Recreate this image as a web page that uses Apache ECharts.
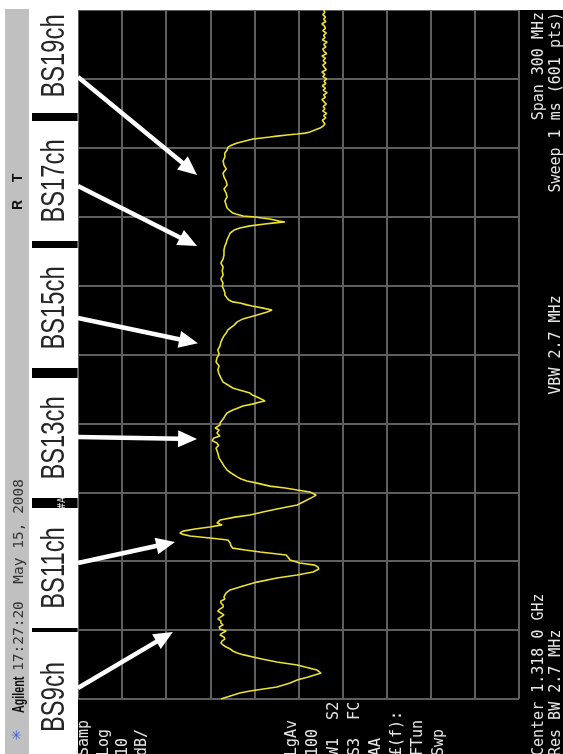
<!DOCTYPE html>
<html><head><meta charset="utf-8">
<script src="https://cdn.jsdelivr.net/npm/echarts@6/dist/echarts.min.js"></script>
<style>html,body{margin:0;padding:0;background:#000;}#c{width:563px;height:754px;}</style>
</head><body><div id="c"></div>
<script>
// ---------- DATA ----------
// Pairs are [frequency offset from centre (MHz; centre 1.318 GHz, span 300 MHz), level in dB below ref (10 dB/div)]
const segBS9 = [[-150.0,-32.4],[-149.1,-33.8],[-147.4,-36.7],[-146.5,-39.0],[-144.8,-45.1],[-143.0,-48.1],[-141.7,-49.7],[-140.4,-52.2],[-139.1,-54.4],[-138.7,-55.1],[-137.4,-54.2],[-136.1,-51.5],[-135.2,-49.7],[-133.9,-45.1],[-132.6,-41.7],[-131.7,-39.7],[-130.8,-37.6],[-130.0,-36.1],[-129.1,-35.1],[-128.2,-34.5],[-127.4,-33.6],[-126.5,-32.9],[-125.6,-32.4],[-124.7,-32.7],[-123.9,-33.3],[-123.0,-33.1],[-122.1,-32.2],[-121.3,-32.7],[-120.4,-33.6],[-119.5,-32.2],[-118.6,-32.0],[-117.8,-32.9],[-116.9,-32.4],[-116.0,-32.4],[-115.1,-31.7],[-114.3,-32.0],[-113.4,-33.1],[-112.6,-32.7],[-111.7,-31.7],[-110.8,-32.2],[-110.0,-32.9],[-109.1,-32.9],[-108.2,-32.4],[-107.3,-32.4],[-106.5,-33.3],[-105.6,-33.1],[-104.7,-33.3],[-103.8,-33.6],[-102.5,-34.5],[-101.2,-36.7],[-99.9,-39.0],[-99.1,-40.6],[-97.3,-45.1],[-96.0,-49.7]];
const segBS11 = [[-94.7,-53.3],[-93.4,-54.6],[-92.5,-54.4],[-91.7,-53.7],[-90.8,-50.3],[-89.5,-48.1],[-88.2,-47.6],[-87.3,-47.2],[-86.0,-41.3],[-85.1,-37.9],[-84.3,-35.1],[-83.4,-34.7],[-82.1,-34.5],[-80.8,-34.0],[-79.9,-29.9],[-79.0,-25.4],[-78.2,-23.6],[-77.7,-23.1],[-76.9,-23.8],[-76.0,-26.5],[-75.1,-29.9],[-74.2,-32.7],[-73.4,-31.5],[-72.1,-32.2],[-70.8,-35.6],[-69.9,-39.0],[-68.6,-41.9],[-67.3,-45.1],[-66.4,-47.4],[-65.5,-49.7],[-63.8,-51.5],[-62.0,-53.3]];
const segBS13 = [[-61.2,-54.0],[-59.9,-52.6],[-59.0,-49.7],[-58.1,-47.0],[-57.3,-43.5],[-56.0,-40.6],[-55.1,-38.3],[-54.2,-37.0],[-53.3,-36.1],[-51.6,-34.7],[-50.3,-33.8],[-48.5,-33.1],[-47.2,-32.7],[-45.1,-32.0],[-42.9,-31.7],[-40.7,-31.3],[-39.6,-31.9],[-38.5,-31.5],[-37.5,-30.4],[-36.4,-30.8],[-35.5,-32.2],[-34.2,-31.5],[-32.9,-32.0],[-32.0,-31.1],[-30.7,-32.2],[-29.8,-32.2],[-28.1,-32.9],[-26.8,-33.3],[-25.5,-33.8],[-24.2,-35.1],[-23.3,-36.3],[-22.4,-37.4],[-21.6,-39.5],[-20.7,-41.3],[-20.2,-42.4]];
const segBS15 = [[-19.4,-42.0],[-18.5,-40.6],[-17.6,-39.5],[-16.8,-39.0],[-15.9,-37.4],[-15.0,-35.8],[-14.6,-35.1],[-13.3,-34.0],[-12.0,-32.9],[-10.2,-32.4],[-8.5,-32.0],[-6.7,-31.7],[-5.0,-32.0],[-3.3,-31.3],[-1.5,-31.5],[0.2,-32.0],[2.0,-31.7],[3.7,-32.2],[5.4,-32.4],[6.7,-32.7],[8.1,-33.1],[9.4,-33.6],[10.7,-34.0],[11.5,-34.5],[12.8,-35.4],[14.2,-36.1],[15.5,-37.4],[16.3,-39.0],[17.2,-40.6],[18.5,-42.9],[19.4,-44.0]];
const segBS17 = [[20.2,-42.0],[21.1,-39.5],[21.6,-38.3],[22.4,-36.7],[22.9,-35.1],[23.7,-34.2],[24.6,-33.8],[25.9,-33.3],[26.8,-33.3],[28.1,-33.1],[29.8,-32.7],[31.1,-32.9],[32.9,-32.4],[34.6,-32.9],[36.4,-32.7],[38.1,-32.9],[39.8,-32.4],[41.6,-32.9],[43.3,-33.1],[45.5,-33.1],[47.2,-33.3],[48.5,-33.6],[49.9,-33.8],[51.6,-34.2],[52.9,-34.5],[54.2,-35.4],[55.1,-36.7],[56.0,-39.0],[56.8,-42.4],[57.3,-44.6],[57.7,-46.9]];
const segBS19 = [[58.1,-45.6],[59.0,-43.5],[59.4,-41.7],[59.9,-40.2],[60.3,-37.4],[61.2,-35.8],[61.6,-35.1],[62.5,-34.5],[63.8,-33.8],[65.1,-33.6],[66.8,-33.3],[68.6,-33.8],[70.3,-33.6],[72.1,-33.1],[73.8,-33.8],[75.5,-33.6],[77.3,-33.1],[79.0,-32.9],[80.8,-33.6],[82.5,-33.1],[84.3,-32.9],[86.0,-33.3],[87.7,-33.3],[89.0,-33.8],[90.3,-34.0],[91.2,-34.9],[92.1,-36.1],[93.0,-37.9],[93.8,-39.7],[94.3,-41.7],[94.7,-43.5],[95.1,-45.1],[95.6,-47.4],[96.0,-49.7]];
const segFloor = [[96.4,-51.5],[96.9,-52.6],[97.7,-53.7],[98.6,-54.9],[99.5,-55.6],[100.4,-56.0],[101,-55.8],[102,-55.4],[103,-56.2],[104,-55.7],[105,-56.4],[106,-55.5],[107,-56.0],[108,-55.6],[109,-56.3],[110,-55.8],[111,-55.3],[112,-56.1],[113,-55.7],[114,-56.5],[115,-55.6],[116,-56.1],[117,-55.4],[118,-56.2],[119,-55.8],[120,-56.4],[121,-55.5],[122,-56.0],[123,-55.3],[124,-56.3],[125,-55.9],[126,-55.5],[127,-56.2],[128,-55.6],[129,-56.1],[130,-55.3],[131,-56.4],[132,-55.8],[133,-55.5],[134,-56.2],[135,-55.7],[136,-56.5],[137,-55.4],[138,-56.0],[139,-55.7],[140,-56.3],[141,-55.5],[142,-56.1],[143,-55.9],[144,-55.3],[145,-56.2],[146,-55.7],[147,-56.1],[148,-55.5],[149,-56.0],[150,-55.7]];

const channelLabels = ['BS9ch','BS11ch','BS13ch','BS15ch','BS17ch','BS19ch'];
const arrowTailFreq = [-145.2, -90.8, -35.9, 15.9, 73.4, 120.8];
const arrowTipFreq  = [-120.8, -81.6, -36.8, 4.9, 47.2, 78.2];
const arrowTipLevel = [-21.5, -22.0, -27.0, -27.2, -27.0, -27.0];

const headerDate = '17:27:20  May 15, 2008';
const bottomLeftTexts = ['Samp','Log','10','dB/'];
const bottomRightTexts = ['LgAv','100','W1  S2','S3  FC','AA','\u00a3(f):','FTun','Swp'];
const footerTexts = {center:'Center 1.318 0 GHz', rbw:'Res BW 2.7 MHz', vbw:'VBW 2.7 MHz', span:'Span 300 MHz', sweep:'Sweep 1 ms (601 pts)'};

const trace = [].concat(segBS9, segBS11, segBS13, segBS15, segBS17, segBS19, segFloor);

// ---------- LAYOUT ----------
const chart = echarts.init(document.getElementById('c'), null, {width:563, height:754});
const gridCol = '#5e5e5e';
chart.setOption({
  backgroundColor:'#000',
  animation:false,
  grid:{left:78, top:10, width:441, height:689, show:false},
  xAxis:{type:'value', min:-100, max:0, interval:10, inverse:true,
    axisLine:{show:false}, axisTick:{show:false}, axisLabel:{show:false},
    splitLine:{show:true, lineStyle:{color:gridCol, width:2}}},
  yAxis:{type:'value', min:-150, max:150, interval:30,
    axisLine:{show:false}, axisTick:{show:false}, axisLabel:{show:false},
    splitLine:{show:true, lineStyle:{color:gridCol, width:2}}},
  series:[{type:'line', data:trace, encode:{x:1, y:0}, symbol:'none', showSymbol:false, clip:true,
    lineStyle:{color:'#ebe32f', width:1.6}, z:5}]
});

const R = Math.PI/2;
function vtext(x, y, text, font, fill, align, scaleX, z){
  return {type:'text', x:x, y:y, rotation:R, scaleX:scaleX||1, z:z||10,
    style:{text:text, font:font, fill:fill, align:align||'left', verticalAlign:'middle',
      textAlign:align||'left', textVerticalAlign:'middle'}};
}
const g = [];
g.push({type:'rect', shape:{x:0,y:0,width:563,height:10}, style:{fill:'#fff'}, z:1});
g.push({type:'rect', shape:{x:0,y:0,width:5,height:754}, style:{fill:'#fff'}, z:1});
g.push({type:'rect', shape:{x:5,y:9,width:24,height:745}, style:{fill:'#c0c0c0'}, z:1});
g.push({type:'rect', shape:{x:29,y:0,width:3,height:754}, style:{fill:'#fff'}, z:1});
g.push(vtext(62, 503, '#A', '10px DejaVu Sans Mono', '#ddd', 'center', 1, 2));
const boxes = [[632,754],[508,628],[378,498],[248,368],[121,241],[0,113]];
const textCenters = [697,568,438,308,181,56];
boxes.forEach((b,i)=>{
  g.push({type:'rect', shape:{x:29,y:b[0],width:49,height:b[1]-b[0]}, style:{fill:'#fff'}, z:3});
  g.push(vtext(55, textCenters[i], channelLabels[i], '33px "Liberation Sans", Arial, sans-serif', '#262626', 'center', 0.72, 4));
});
g.push(vtext(18, 735, '\u2733', '13px "DejaVu Sans"', '#3d5fd6', 'center', 1, 4));
g.push(vtext(19, 713, 'Agilent', 'bold 17px "Liberation Sans", Arial, sans-serif', '#111', 'left', 0.63, 4));
g.push(vtext(19, 671, headerDate, '14.5px "DejaVu Sans Mono", monospace', '#333', 'left', 1, 4));
g.push(vtext(18, 205, 'R', 'bold 14px "Liberation Sans", Arial', '#111', 'center', 1, 4));
g.push(vtext(18, 178, 'T', 'bold 14px "Liberation Sans", Arial', '#111', 'center', 1, 4));
const monoFont = '15px "DejaVu Sans Mono", monospace';
const blX = [84,104,123,142];
bottomLeftTexts.forEach((t,i)=>g.push(vtext(blX[i], 756, t, monoFont, '#e6e6e6', 'left', 1, 4)));
bottomRightTexts.forEach((t,i)=>g.push(vtext(292+21*i, 756, t, monoFont, '#e6e6e6', 'left', 1, 4)));
g.push(vtext(539, 756, footerTexts.center, monoFont, '#e6e6e6', 'left', 1, 4));
g.push(vtext(556, 756, footerTexts.rbw, monoFont, '#e6e6e6', 'left', 1, 4));
g.push(vtext(556, 345, footerTexts.vbw, monoFont, '#e6e6e6', 'center', 1, 4));
g.push(vtext(539, 12, footerTexts.span, monoFont, '#e6e6e6', 'right', 1, 4));
g.push(vtext(556, 12, footerTexts.sweep, monoFont, '#e6e6e6', 'right', 1, 4));
for (let i=0;i<channelLabels.length;i++){
  const T = chart.convertToPixel({gridIndex:0}, [0, arrowTailFreq[i]]);
  const P = chart.convertToPixel({gridIndex:0}, [arrowTipLevel[i], arrowTipFreq[i]]);
  const dx = P[0]-T[0], dy = P[1]-T[1], L = Math.hypot(dx,dy);
  const ux = dx/L, uy = dy/L, nx = -uy, ny = ux;
  const hl = 19, hw = 8.5;
  const bx = P[0]-ux*hl, by = P[1]-uy*hl;
  g.push({type:'line', shape:{x1:T[0], y1:T[1], x2:bx+ux*2, y2:by+uy*2}, style:{stroke:'#fff', lineWidth:4.5}, z:8});
  g.push({type:'polygon', shape:{points:[[P[0],P[1]],[bx+nx*hw,by+ny*hw],[bx-nx*hw,by-ny*hw]]}, style:{fill:'#fff'}, z:8});
}
chart.setOption({graphic:{elements:g}});
</script>
</body></html>
